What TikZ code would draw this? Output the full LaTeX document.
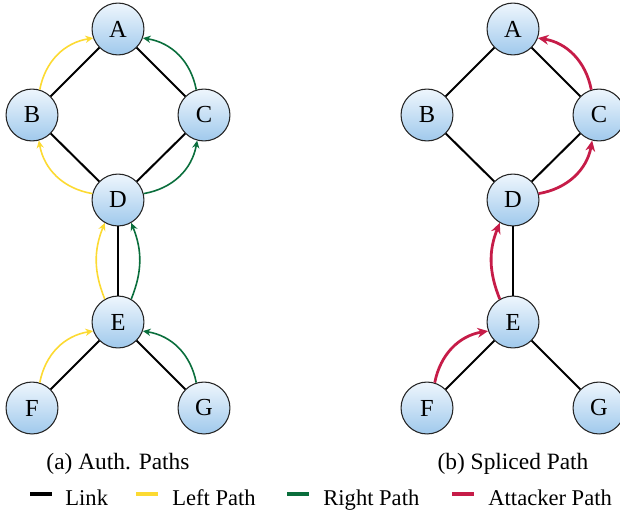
\documentclass[tikz,border=0pt]{standalone}
\usepackage{fontspec}
\setmainfont{Liberation Serif}
\usetikzlibrary{arrows.meta}
\definecolor{lp}{RGB}{252,218,50}
\definecolor{rp}{RGB}{10,110,60}
\definecolor{ap}{RGB}{198,28,72}
\definecolor{ntop}{RGB}{238,246,253}
\definecolor{nbot}{RGB}{160,201,236}
\tikzset{
  vnode/.style={circle,minimum size=24.4pt,inner sep=0pt,draw=black!85,line width=0.5pt,
    top color=ntop,bottom color=nbot,font=\fontsize{11.5}{13}\selectfont},
  link/.style={line width=0.95pt,black},
  leftp/.style={lp,line width=0.75pt,-{Stealth[length=3.6pt,width=3.4pt]}},
  rightp/.style={rp,line width=0.75pt,-{Stealth[length=3.6pt,width=3.4pt]}},
  attp/.style={ap,line width=1.3pt,-{Stealth[length=5pt,width=4.6pt]}},
  legline/.style={line width=1.5pt},
  legtext/.style={anchor=base west,inner sep=0pt,font=\fontsize{10.6}{13}\selectfont},
  captext/.style={anchor=base,inner sep=0pt,font=\fontsize{11}{13}\selectfont}
}
\begin{document}
\begin{tikzpicture}[x=0.47pt,y=-0.47pt]
\useasboundingbox (0,0) rectangle (620,513);
% left graph
\node[vnode] (A) at (118,29) {A};
\node[vnode] (B) at (32,115) {B};
\node[vnode] (C) at (204,115) {C};
\node[vnode] (D) at (118,200) {D};
\node[vnode] (E) at (118,322) {E};
\node[vnode] (F) at (32,408) {F};
\node[vnode] (G) at (204,408) {G};
\draw[link] (A) -- (B); \draw[link] (A) -- (C);
\draw[link] (B) -- (D); \draw[link] (C) -- (D);
\draw[link] (D) -- (E); \draw[link] (E) -- (F); \draw[link] (E) -- (G);
\draw[leftp] (B.73) to[bend left=35] (A.200);
\draw[leftp] (D.166) to[bend left=35] (B.-75);
\draw[leftp] (E.120) to[bend left=22] (D.-120);
\draw[leftp] (F.73) to[bend left=35] (E.200);
\draw[rightp] (C.107) to[bend right=35] (A.-20);
\draw[rightp] (D.14) to[bend right=35] (C.-105);
\draw[rightp] (E.60) to[bend right=22] (D.-60);
\draw[rightp] (G.107) to[bend right=35] (E.-20);
% right graph
\node[vnode] (A2) at (513,29) {A};
\node[vnode] (B2) at (427,115) {B};
\node[vnode] (C2) at (599,115) {C};
\node[vnode] (D2) at (513,200) {D};
\node[vnode] (E2) at (513,322) {E};
\node[vnode] (F2) at (427,408) {F};
\node[vnode] (G2) at (599,408) {G};
\draw[link] (A2) -- (B2); \draw[link] (A2) -- (C2);
\draw[link] (B2) -- (D2); \draw[link] (C2) -- (D2);
\draw[link] (D2) -- (E2); \draw[link] (E2) -- (F2); \draw[link] (E2) -- (G2);
\draw[attp] (F2.73) to[bend left=35] (E2.200);
\draw[attp] (E2.120) to[bend left=22] (D2.-120);
\draw[attp] (D2.14) to[bend right=35] (C2.-105);
\draw[attp] (C2.107) to[bend right=35] (A2.-20);
% captions
\node[captext] (capa) at (118,469) {(a) Auth. Paths};
\node[captext] (capb) at (513,469) {(b) Spliced Path};
% legend
\coordinate (l1a) at (30,494); \coordinate (l1b) at (52,494);
\coordinate (l2a) at (136,494); \coordinate (l2b) at (158,494);
\coordinate (l3a) at (287,494); \coordinate (l3b) at (309,494);
\coordinate (l4a) at (452,494); \coordinate (l4b) at (474,494);
\draw[legline,black] (l1a) -- (l1b);
\draw[legline,lp] (l2a) -- (l2b);
\draw[legline,rp] (l3a) -- (l3b);
\draw[legline,ap] (l4a) -- (l4b);
\node[legtext] (t1) at (65,505) {Link};
\node[legtext] (t2) at (172,505) {Left Path};
\node[legtext] (t3) at (323,505) {Right Path};
\node[legtext] (t4) at (488,505) {Attacker Path};
\end{tikzpicture}
\end{document}
